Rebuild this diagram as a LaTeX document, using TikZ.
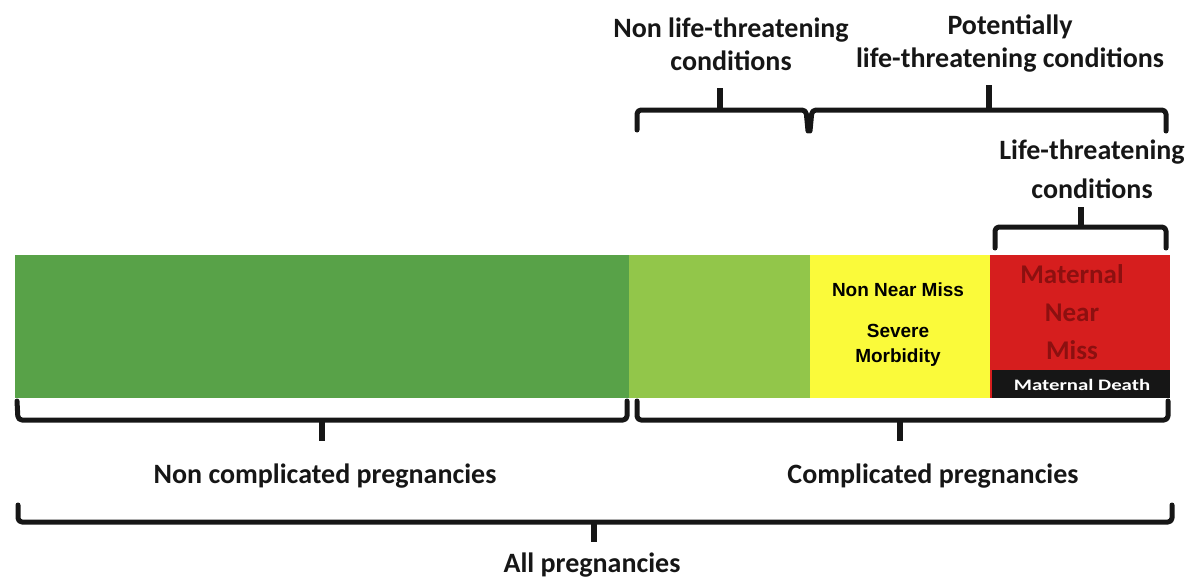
\documentclass[tikz,border=0pt]{standalone}
\usepackage{fontspec}
\setmainfont{Carlito}
\newfontfamily\arialfont{Liberation Sans}
\definecolor{dkgreen}{RGB}{88,162,72}
\definecolor{ltgreen}{RGB}{146,198,74}
\definecolor{ylw}{RGB}{250,250,58}
\definecolor{rd}{RGB}{214,30,30}
\definecolor{dkrd}{RGB}{140,16,16}
\definecolor{ink}{RGB}{22,22,22}
\begin{document}
\begin{tikzpicture}[x=1pt,y=-1pt,
  seg/.style={draw=none, inner sep=0pt, outer sep=0pt, anchor=north west},
  brk/.style={line width=5pt, line join=round, line cap=round, draw=ink, rounded corners=4pt},
  tick/.style={line width=5.5pt, draw=ink},
  lbl/.style={font=\bfseries\fontsize{28}{33}\selectfont, text=ink, align=center, inner sep=0pt},
  lblw/.style={font=\bfseries\fontsize{28}{39}\selectfont, text=ink, align=center, inner sep=0pt},
  inlbl/.style={font=\arialfont\bfseries\fontsize{19}{25}\selectfont, text=black, align=center, inner sep=0pt},
  mnm/.style={font=\bfseries\fontsize{27}{38}\selectfont, text=dkrd, align=center, inner sep=0pt}]
\useasboundingbox (0,0) rectangle (1193,578);
% bar
\node[seg, fill=dkgreen, minimum width=614pt, minimum height=143pt] (nc) at (15,255) {};
\node[seg, fill=ltgreen, minimum width=181pt, minimum height=143pt] (nl) at (629,255) {};
\node[seg, fill=ylw, minimum width=180pt, minimum height=143pt] (nnm) at (810,255) {};
\node[seg, fill=rd, minimum width=180pt, minimum height=143pt] (mn) at (990,255) {};
\node[seg, fill=ink, minimum width=178pt, minimum height=28pt] (md) at (992,370) {};
\node[font=\bfseries\fontsize{16}{18}\selectfont, text=white, inner sep=0pt, xscale=1.3, transform shape] (mdt) at (1082,385) {Maternal Death};
\node[inlbl] (nnmt) at (898,325) {Non Near Miss\\[16pt]Severe\\Morbidity};
\node[mnm] (mnt) at (1072,312) {Maternal\\Near\\Miss};
% top labels
\node[lbl] (t1) at (731,44) {Non life-threatening\\conditions};
\node[lbl] (t2) at (1010,44) {Potentially\\life-threatening conditions};
\node[lblw] (t3) at (1092,169) {Life-threatening\\conditions};
% bottom labels
\node[lbl] (b1) at (325,476) {Non complicated pregnancies};
\node[lbl] (b2) at (933,476) {Complicated pregnancies};
\node[lbl] (b3) at (592,565) {All pregnancies};
% top brackets
\coordinate (k1) at (720,110);
\coordinate (k2) at (989,110);
\coordinate (k3) at (1081,227);
\draw[brk] (637,130) -- (637,110) -- (806,110) -- (808,131);
\draw[brk] (810,131) -- (812,110) -- (1166,110) -- (1166,131);
\draw[brk] (995,248) -- (995,227) -- (1166,227) -- (1166,248);
\draw[tick] (k1) -- (720,88);
\draw[tick] (k2) -- (989,85);
\draw[tick] (k3) -- (1081,207);
% bottom brackets
\coordinate (k4) at (322,420);
\coordinate (k5) at (900,420);
\coordinate (k6) at (594,522);
\draw[brk] (17,401) -- (18,420) -- (627,420) -- (627,401);
\draw[brk] (637,401) -- (637,420) -- (1168,420) -- (1168,401);
\draw[brk] (18,505) -- (18,522) -- (1172,522) -- (1172,505);
\draw[tick] (k4) -- (322,441);
\draw[tick] (k5) -- (900,441);
\draw[tick] (k6) -- (594,542);
\end{tikzpicture}
\end{document}
